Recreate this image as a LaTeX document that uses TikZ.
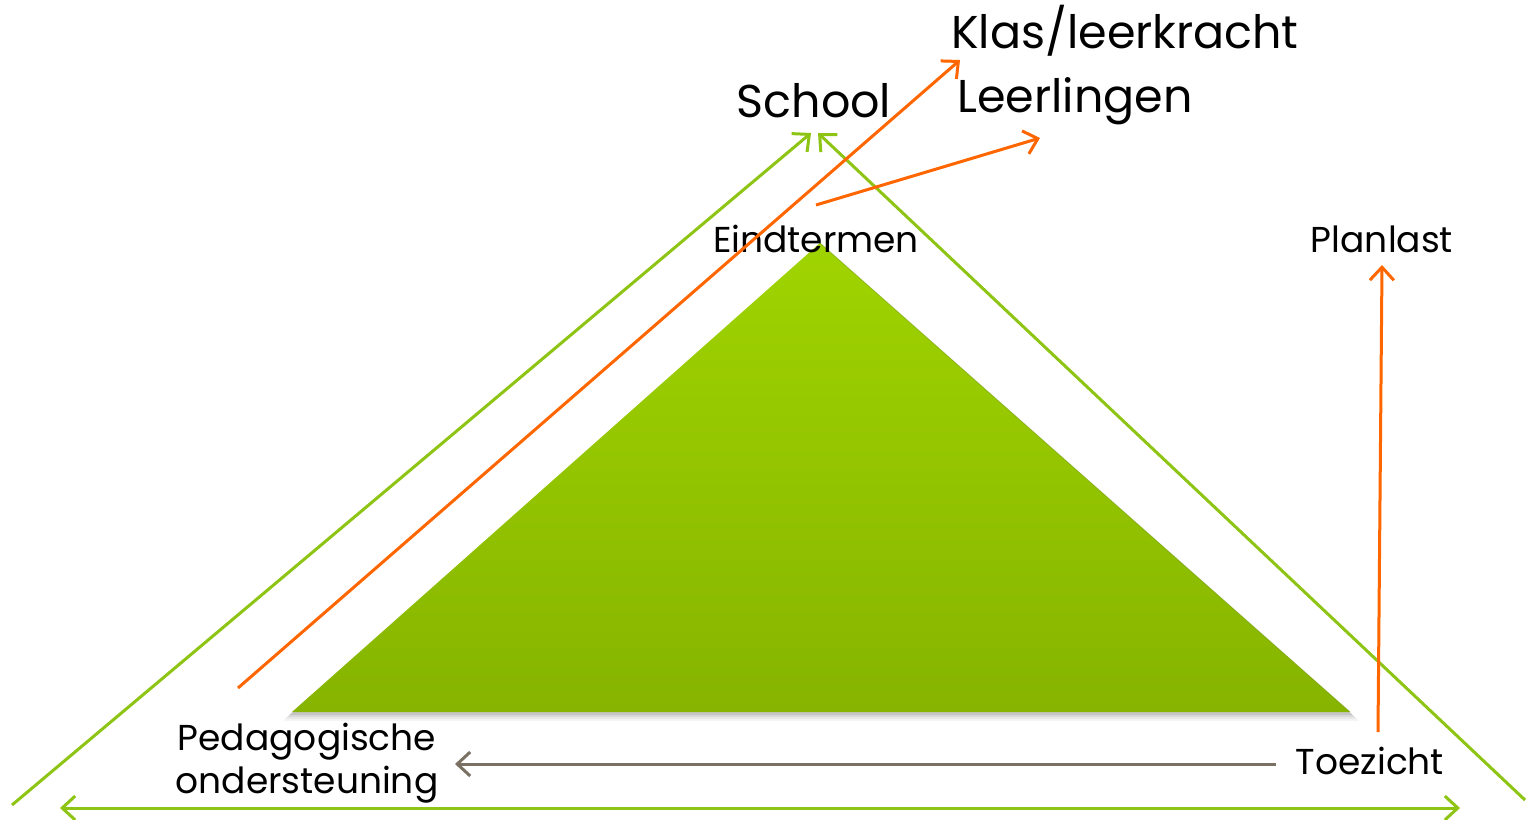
\documentclass[tikz,border=0pt]{standalone}
\usepackage{fontspec}
\setmainfont{Poppins}
\usetikzlibrary{arrows.meta,calc}
\definecolor{lgreen}{RGB}{142,196,20}
\definecolor{tgtop}{RGB}{160,212,0}
\definecolor{tgbot}{RGB}{134,180,0}
\definecolor{orng}{RGB}{255,102,0}
\definecolor{grayarrow}{RGB}{122,112,100}
\tikzset{
  barb/.tip={Straight Barb[length=13pt,width=24pt,line width=3pt]},
  gline/.style={draw=lgreen, line width=3pt, -barb},
  oline/.style={draw=orng, line width=3pt, -barb},
  grline/.style={draw=grayarrow, line width=3pt, -barb},
  big/.style={font=\fontsize{46}{52}\selectfont, inner sep=0pt},
  small/.style={font=\fontsize{36}{43}\selectfont, inner sep=0pt, align=center},
}
\begin{document}
\begin{tikzpicture}[x=1pt,y=-1pt]
\useasboundingbox (0,0) rectangle (1528,819);
% coordinates
\coordinate (gl) at (12,805);
\coordinate (gr) at (1525,800);
\coordinate (sl) at (811,133);
\coordinate (sr) at (818,133);
\coordinate (bl) at (60,808);
\coordinate (br) at (1460,808);
\coordinate (apex) at (820,243);
\coordinate (tl) at (292,712);
\coordinate (tr) at (1350,712);
\coordinate (o1s) at (238,688);
\coordinate (o2s) at (816,205);
\coordinate (o3s) at (1378,732);
\coordinate (gys) at (1276,764);
% shadow
\foreach \d/\o in {9/0.04,7/0.05,5/0.07,3/0.09} {
  \fill[black,opacity=\o] ($(apex)+(0,\d)$) -- ($(tr)+(\d,\d)$) -- ($(tl)+(-\d,\d)$) -- cycle;
}
% inner triangle
\shade[top color=tgtop, bottom color=tgbot] (apex) -- (tr) -- (tl) -- cycle;
\draw[tgbot!80!black, line width=0.8pt, opacity=0.5] (apex) -- (tr);
% texts
\node[big] (klas) at (1125,31) {Klas/leerkracht};
\node[big] (school) at (814,101) {School};
\node[big] (leer) at (1075,101) {Leerlingen};
\node[small] (eind) at (816,239) {Eindtermen};
\node[small] (plan) at (1382,239) {Planlast};
\node[small] (ped) at (307,763) {Pedagogische\\ondersteuning};
\node[small] (toe) at (1370,761) {Toezicht};
% green outer arrows
\draw[gline] (gl) -- (sl);
\draw[gline] (gr) -- (sr);
\draw[draw=lgreen, line width=3pt, barb-barb] (bl) -- (br);
% orange arrows
\coordinate (o1e) at (960,60);
\coordinate (o2e) at (1040,138);
\coordinate (o3e) at (1382,265);
\draw[oline] (o1s) -- (o1e);
\draw[oline] (o2s) -- (o2e);
\draw[oline] (o3s) -- (o3e);
% gray arrow
\coordinate (gye) at (455,764);
\draw[grline] (gys) -- (gye);
\end{tikzpicture}
\end{document}
